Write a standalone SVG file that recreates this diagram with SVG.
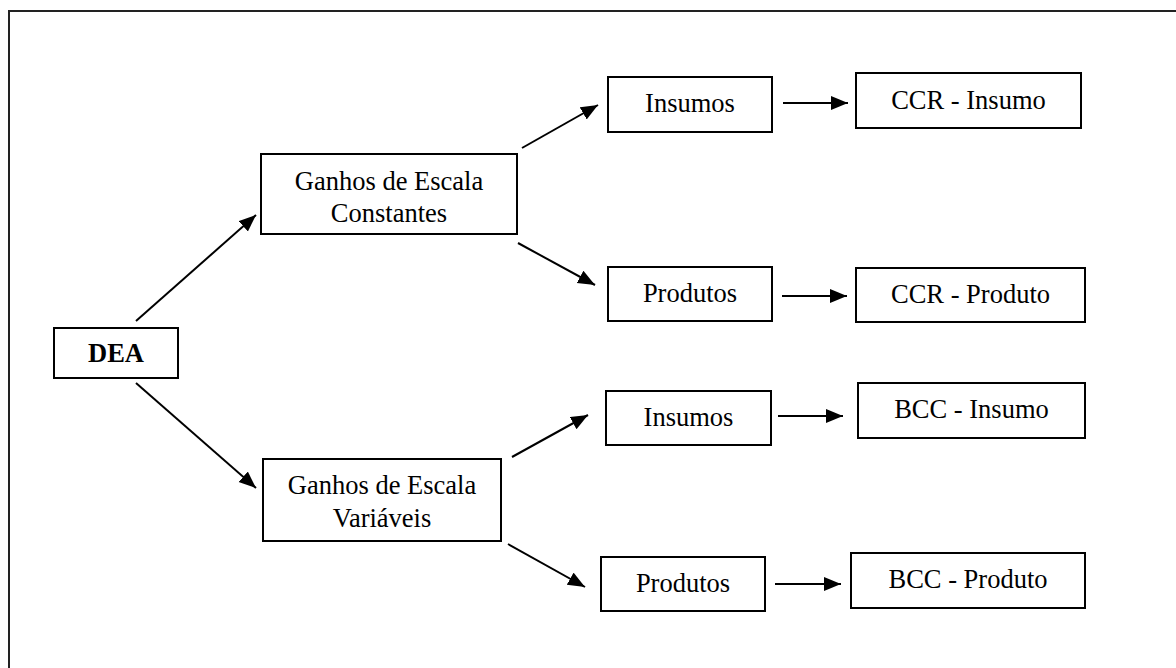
<svg xmlns="http://www.w3.org/2000/svg" width="1176" height="668" viewBox="0 0 1176 668">
<style>
.box{fill:#fff;stroke:#000;stroke-width:2}
.t{font-family:"Liberation Serif","Times New Roman",serif;font-size:26.5px;fill:#000;text-anchor:middle}
.b{font-weight:bold}
.c{stroke:#000;stroke-width:2;fill:none;marker-end:url(#ah)}
</style>
<defs>
<marker id="ah" markerUnits="userSpaceOnUse" markerWidth="18" markerHeight="15" refX="17" refY="7" orient="auto">
<path d="M0,0 L17,7 L0,14 z" fill="#000"/>
</marker>
</defs>
<rect width="1176" height="668" fill="#fff"/>
<path d="M9,668 V11 H1176" fill="none" stroke="#222" stroke-width="2"/>
<g id="connectors">
<line class="c" x1="136" y1="321" x2="256" y2="215"/>
<line class="c" x1="136" y1="383" x2="256" y2="488"/>
<line class="c" x1="522" y1="148" x2="598" y2="105"/>
<line class="c" x1="518" y1="243" x2="595" y2="285"/>
<line class="c" x1="783" y1="103" x2="848" y2="103"/>
<line class="c" x1="782" y1="296" x2="847" y2="296"/>
<line class="c" x1="512" y1="457" x2="588" y2="415"/>
<line class="c" x1="508" y1="544" x2="585" y2="587"/>
<line class="c" x1="778" y1="416" x2="843" y2="416"/>
<line class="c" x1="775" y1="584" x2="841" y2="584"/>
</g>
<g id="dea">
<rect class="box" x="54" y="328" width="124" height="50"/>
<text class="t b" x="116" y="362">DEA</text>
</g>
<g id="gec">
<rect class="box" x="261" y="154" width="256" height="80"/>
<text class="t" x="389" y="190">Ganhos de Escala</text>
<text class="t" x="389" y="222">Constantes</text>
</g>
<g id="gev">
<rect class="box" x="263" y="459" width="238" height="82"/>
<text class="t" x="382" y="494">Ganhos de Escala</text>
<text class="t" x="382" y="527">Variáveis</text>
</g>
<g id="insumos-ccr">
<rect class="box" x="608" y="77" width="164" height="55"/>
<text class="t" x="690" y="112">Insumos</text>
</g>
<g id="produtos-ccr">
<rect class="box" x="608" y="267" width="164" height="54"/>
<text class="t" x="690" y="302">Produtos</text>
</g>
<g id="ccr-insumo">
<rect class="box" x="856" y="73" width="225" height="55"/>
<text class="t" x="968.5" y="109">CCR - Insumo</text>
</g>
<g id="ccr-produto">
<rect class="box" x="856" y="268" width="229" height="54"/>
<text class="t" x="970.5" y="303">CCR - Produto</text>
</g>
<g id="insumos-bcc">
<rect class="box" x="606" y="391" width="165" height="54"/>
<text class="t" x="688.5" y="426">Insumos</text>
</g>
<g id="produtos-bcc">
<rect class="box" x="601" y="557" width="164" height="54"/>
<text class="t" x="683" y="592">Produtos</text>
</g>
<g id="bcc-insumo">
<rect class="box" x="858" y="383" width="227" height="55"/>
<text class="t" x="971.5" y="418">BCC - Insumo</text>
</g>
<g id="bcc-produto">
<rect class="box" x="851" y="553" width="234" height="55"/>
<text class="t" x="968" y="588">BCC - Produto</text>
</g>
</svg>
